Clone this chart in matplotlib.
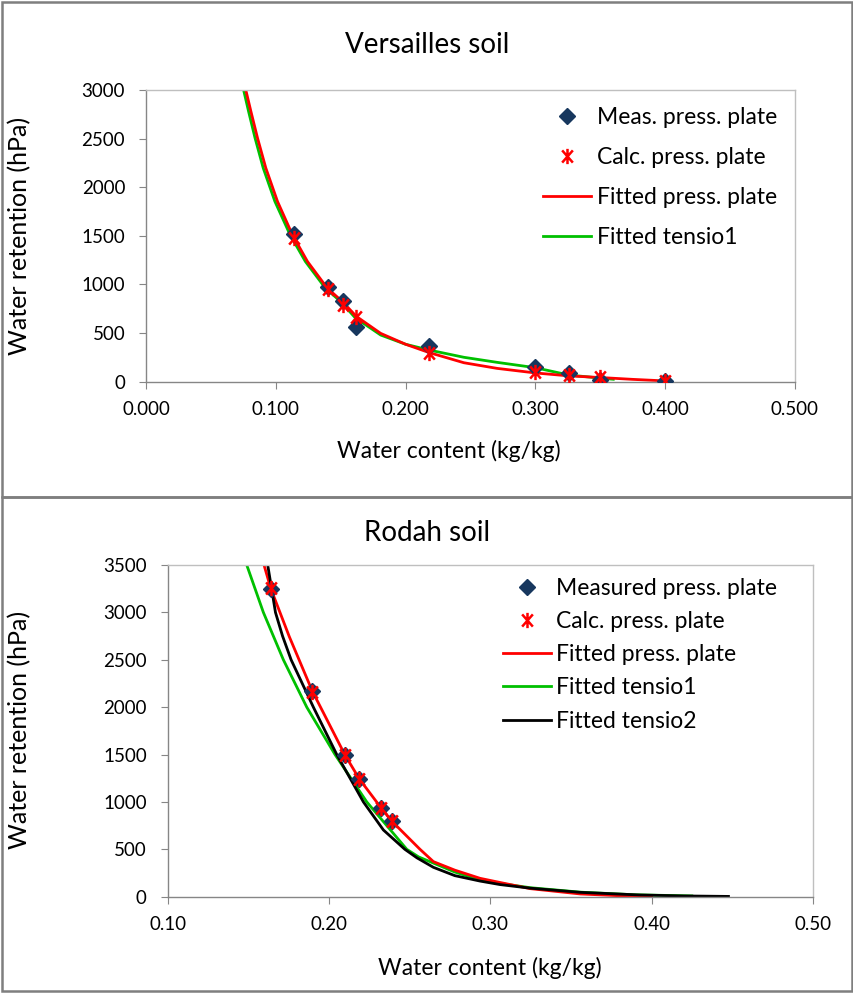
import matplotlib
matplotlib.use("Agg")
import matplotlib.pyplot as plt
from matplotlib.patches import Rectangle
from matplotlib.path import Path
import numpy as np

plt.rcParams['font.family'] = ['Lato', 'DejaVu Sans']

# ---- Versailles soil (top) ----
v_meas_x = [0.114, 0.140, 0.152, 0.162, 0.218, 0.300, 0.326, 0.350, 0.400]
v_meas_y = [1522, 973, 832, 567, 371, 155, 93, 18, 5]
v_calc_x = [0.114, 0.140, 0.152, 0.162, 0.218, 0.300, 0.326, 0.350, 0.400]
v_calc_y = [1478, 952, 791, 670, 293, 97, 69, 45, 5]

v_fit_x = [0.0769, 0.0808, 0.0859, 0.0923, 0.1013, 0.1128, 0.1244, 0.1397, 0.1513,
           0.162, 0.1808, 0.200, 0.218, 0.2449, 0.2705, 0.300, 0.3256, 0.3513, 0.375, 0.400]
v_fit_y = [3000, 2781, 2507, 2198, 1854, 1511, 1236, 962, 824,
           672, 497, 385, 300, 195, 137, 90, 60, 42, 24, 8]
v_t1_x = [0.0752, 0.0790, 0.0840, 0.0903, 0.0993, 0.1110, 0.1228, 0.1382, 0.1500,
          0.161, 0.1808, 0.200, 0.218, 0.2449, 0.2705, 0.300, 0.3256, 0.3513, 0.360]
v_t1_y = [3000, 2781, 2507, 2198, 1854, 1511, 1236, 962, 824,
          660, 480, 385, 326, 251, 199, 144, 69, 35, 25]

# ---- Rodah soil (bottom) ----
r_meas_x = [0.164, 0.1896, 0.2099, 0.2188, 0.2322, 0.2388]
r_meas_y = [3247, 2171, 1495, 1242, 939, 799]
r_calc_x = [0.164, 0.1896, 0.2099, 0.2188, 0.2322, 0.2388]
r_calc_y = [3262, 2165, 1490, 1245, 935, 795]

r_fit_x = [0.1597, 0.164, 0.1754, 0.1896, 0.2099, 0.2188, 0.2322, 0.2388,
           0.2564, 0.2647, 0.278, 0.2936, 0.306, 0.3247, 0.3557, 0.380, 0.400]
r_fit_y = [3500, 3247, 2743, 2171, 1495, 1242, 939, 799,
           500, 370, 280, 194, 150, 85, 29, 10, 0]
r_t1_x = [0.149, 0.1593, 0.1717, 0.1862, 0.2037, 0.2234, 0.2482, 0.2555, 0.2647,
          0.278, 0.2936, 0.306, 0.3247, 0.3557, 0.390, 0.4249]
r_t1_y = [3500, 3000, 2500, 2000, 1500, 1000, 500, 420, 355,
          260, 178, 140, 95, 48, 20, 8]
r_t2_x = [0.1620, 0.1668, 0.1712, 0.1765, 0.1903, 0.2048, 0.2213, 0.2337, 0.2470, 0.2545,
          0.2647, 0.278, 0.2936, 0.306, 0.3247, 0.3557, 0.3929, 0.420, 0.4476]
r_t2_y = [3500, 3000, 2750, 2500, 2000, 1500, 1000, 704, 500, 410,
          310, 222, 165, 128, 90, 46, 18, 8, 3]

navy = '#17375E'
axis_grey = '#868686'
box_grey = '#BFBFBF'
green = '#00C000'

# Excel-style asterisk: an "x" with a vertical bar
ast = Path([(-0.7, -0.8), (0.7, 0.8), (-0.7, 0.8), (0.7, -0.8), (0, -1), (0, 1)],
           [Path.MOVETO, Path.LINETO, Path.MOVETO, Path.LINETO, Path.MOVETO, Path.LINETO])

fig = plt.figure(figsize=(8.54, 9.94), dpi=100)
W, H = 854, 994


def style_axes(ax):
    for s in ['left', 'bottom']:
        ax.spines[s].set_color(axis_grey)
        ax.spines[s].set_linewidth(1.0)
    for s in ['top', 'right']:
        ax.spines[s].set_color(box_grey)
        ax.spines[s].set_linewidth(1.0)
    ax.tick_params(axis='both', direction='out', color=axis_grey, length=5,
                   labelsize=13.5, labelcolor='black')
    ax.tick_params(axis='x', pad=9)
    ax.tick_params(axis='y', pad=10)


# top axes
ax1 = fig.add_axes([146 / W, 1 - 381.7 / H, (795 - 146) / W, (381.7 - 90) / H])
ax1.plot(v_meas_x, v_meas_y, linestyle='none', marker='D', color=navy, markersize=8.5,
         label='Meas. press. plate', zorder=3)
ax1.plot(v_calc_x, v_calc_y, linestyle='none', marker=ast, color='red', markersize=11,
         markeredgewidth=1.8, label='Calc. press. plate', zorder=4)
ax1.plot(v_fit_x, v_fit_y, color='red', lw=2, label='Fitted press. plate', zorder=2)
ax1.plot(v_t1_x, v_t1_y, color=green, lw=2, label='Fitted tensio1', zorder=1)
ax1.set_xlim(0, 0.5)
ax1.set_ylim(0, 3000)
ax1.set_xticks(np.arange(0, 0.501, 0.1))
ax1.set_yticks(np.arange(0, 3001, 500))
ax1.xaxis.set_major_formatter(matplotlib.ticker.FormatStrFormatter('%.3f'))
style_axes(ax1)
ax1.legend(loc='upper left', bbox_to_anchor=(543 / W, 1 - 107 / H),
           bbox_transform=fig.transFigure, frameon=False, fontsize=16.5,
           handlelength=2.1, handletextpad=0.25, labelspacing=0.83,
           borderaxespad=0, borderpad=0)

# bottom axes
ax2 = fig.add_axes([167.7 / W, 1 - 896.7 / H, (813 - 167.7) / W, (896.7 - 565) / H])
ax2.plot(r_meas_x, r_meas_y, linestyle='none', marker='D', color=navy, markersize=8.5,
         label='Measured press. plate', zorder=3)
ax2.plot(r_calc_x, r_calc_y, linestyle='none', marker=ast, color='red', markersize=11,
         markeredgewidth=1.8, label='Calc. press. plate', zorder=4)
ax2.plot(r_fit_x, r_fit_y, color='red', lw=2, label='Fitted press. plate', zorder=2)
ax2.plot(r_t1_x, r_t1_y, color=green, lw=2, label='Fitted tensio1', zorder=1)
ax2.plot(r_t2_x, r_t2_y, color='black', lw=2, label='Fitted tensio2', zorder=2)
ax2.set_xlim(0.1, 0.5)
ax2.set_ylim(0, 3500)
ax2.set_xticks(np.arange(0.1, 0.501, 0.1))
ax2.set_yticks(np.arange(0, 3501, 500))
ax2.xaxis.set_major_formatter(matplotlib.ticker.FormatStrFormatter('%.2f'))
style_axes(ax2)
ax2.legend(loc='upper left', bbox_to_anchor=(503 / W, 1 - 578 / H),
           bbox_transform=fig.transFigure, frameon=False, fontsize=16.5,
           handlelength=2.1, handletextpad=0.2, labelspacing=0.53,
           borderaxespad=0, borderpad=0)

# titles and axis labels
fig.text(427 / W, 1 - 45 / H, 'Versailles soil', ha='center', va='center', fontsize=20)
fig.text(427 / W, 1 - 533 / H, 'Rodah soil', ha='center', va='center', fontsize=20)
fig.text(449 / W, 1 - 451 / H, 'Water content (kg/kg)', ha='center', va='center', fontsize=16.5)
fig.text(490 / W, 1 - 968 / H, 'Water content (kg/kg)', ha='center', va='center', fontsize=16.5)
fig.text(20 / W, 1 - 236 / H, 'Water retention (hPa)', ha='center', va='center',
         rotation=90, fontsize=18)
fig.text(20 / W, 1 - 730 / H, 'Water retention (hPa)', ha='center', va='center',
         rotation=90, fontsize=18)

# outer panel frames
fig.patches.append(Rectangle((2 / W, 1 - 497 / H), 850 / W, 495 / H, transform=fig.transFigure,
                             fill=False, edgecolor='#7F7F7F', lw=1.8))
fig.patches.append(Rectangle((2 / W, 1 - 991 / H), 850 / W, 494 / H, transform=fig.transFigure,
                             fill=False, edgecolor='#7F7F7F', lw=1.8))

fig.savefig('out.png', dpi=100)
